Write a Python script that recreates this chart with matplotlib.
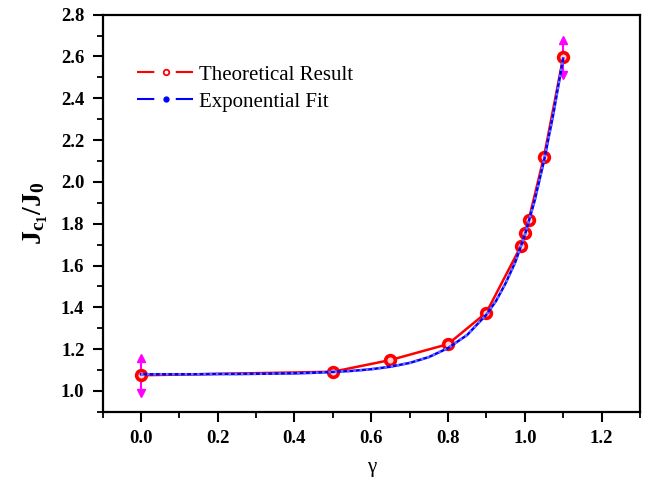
import matplotlib
matplotlib.use("Agg")
import matplotlib.pyplot as plt
from matplotlib.ticker import MultipleLocator

# ---- data ----
theory_x = [0.0, 0.5, 0.65, 0.8, 0.9, 0.99, 1.0, 1.01, 1.05, 1.1]
theory_y = [1.075, 1.092, 1.148, 1.224, 1.375, 1.693, 1.754, 1.816, 2.12, 2.595]

fit_x = [0.0, 0.05, 0.1, 0.15, 0.2, 0.25, 0.3, 0.35, 0.4, 0.45, 0.5, 0.55, 0.6,
         0.65, 0.7, 0.75, 0.8, 0.85, 0.9, 0.925, 0.95, 0.975, 1.0, 1.025,
         1.05, 1.075, 1.1]
fit_y = [1.080, 1.080, 1.080, 1.080, 1.081, 1.081, 1.082, 1.083, 1.084, 1.087,
         1.091, 1.096, 1.104, 1.116, 1.134, 1.162, 1.205, 1.268, 1.365, 1.430,
         1.515, 1.615, 1.745, 1.905, 2.100, 2.330, 2.590]

err_x = [0.0, 1.1]
err_y = [1.075, 2.595]
err_v = [0.085, 0.085]

legend_labels = ["Theoretical Result", "Exponential Fit"]

# ---- styling ----
plt.rcParams['font.family'] = ['Liberation Serif', 'DejaVu Serif']
plt.rcParams['mathtext.fontset'] = 'custom'
plt.rcParams['mathtext.rm'] = 'Liberation Serif'
plt.rcParams['mathtext.it'] = 'Liberation Serif:italic'
plt.rcParams['mathtext.bf'] = 'Liberation Serif:bold'

fig = plt.figure(figsize=(6.49, 4.88), dpi=100)
ax = fig.add_axes([0.158, 0.156, 0.828, 0.814])

# error bars (magenta with arrow heads)
ax.errorbar(err_x, err_y, yerr=err_v, fmt='none', ecolor='magenta',
            elinewidth=1.5, capsize=0, zorder=2)
ax.plot(err_x, [y + e for y, e in zip(err_y, err_v)], linestyle='none',
        marker='^', color='magenta', ms=6, zorder=2)
ax.plot(err_x, [y - e for y, e in zip(err_y, err_v)], linestyle='none',
        marker='v', color='magenta', ms=6, zorder=2)

# theoretical result
ax.plot(theory_x, theory_y, color='red', lw=1.8, zorder=3)
ax.plot(theory_x, theory_y, linestyle='none', marker='o', ms=7,
        mfc='#ffd0d0', mec='red', mew=2.6, zorder=4)

# exponential fit
ax.plot(fit_x, fit_y, color='blue', lw=1.8, zorder=5)
ax.plot(fit_x, fit_y, color='#6f6fff', lw=1.8, linestyle=(0, (1, 1.5)), zorder=5)

# legend proxies ("— o —" style handles)
h1, = ax.plot([], [], color='red', lw=1.5, linestyle=(0, (8.3, 10.3)), marker='o',
              ms=4, mfc='white', mec='red', mew=1.3)
h2, = ax.plot([], [], color='blue', lw=1.5, linestyle=(0, (8.3, 10.3)), marker='o',
              ms=3.5, mfc='blue', mec='blue')
leg = ax.legend([h1, h2], legend_labels, loc='upper left',
                bbox_to_anchor=(0.03, 0.92), frameon=False, fontsize=15,
                handlelength=2.71, handletextpad=0.25, labelspacing=0.35)

ax.set_xlim(-0.1, 1.3)
ax.set_ylim(0.9, 2.8)
ax.xaxis.set_major_locator(MultipleLocator(0.2))
ax.xaxis.set_minor_locator(MultipleLocator(0.1))
ax.yaxis.set_major_locator(MultipleLocator(0.2))
ax.yaxis.set_minor_locator(MultipleLocator(0.1))
ax.xaxis.set_major_formatter(matplotlib.ticker.FormatStrFormatter('%.1f'))
ax.yaxis.set_major_formatter(matplotlib.ticker.FormatStrFormatter('%.1f'))

ax.tick_params(which='major', direction='out', length=7, width=1.5,
               labelsize=13.5, top=False, right=False, pad=6)
ax.tick_params(which='minor', direction='out', length=4, width=1.3,
               top=False, right=False)
for lab in ax.get_xticklabels() + ax.get_yticklabels():
    lab.set_fontweight('bold')
for sp in ax.spines.values():
    sp.set_linewidth(1.6)

ax.set_xlabel('γ', fontsize=15, labelpad=8)
ax.set_ylabel(r'$\mathbf{J_{c_1}/J_0}$', fontsize=20, labelpad=8)

fig.savefig('out.png', dpi=100)
